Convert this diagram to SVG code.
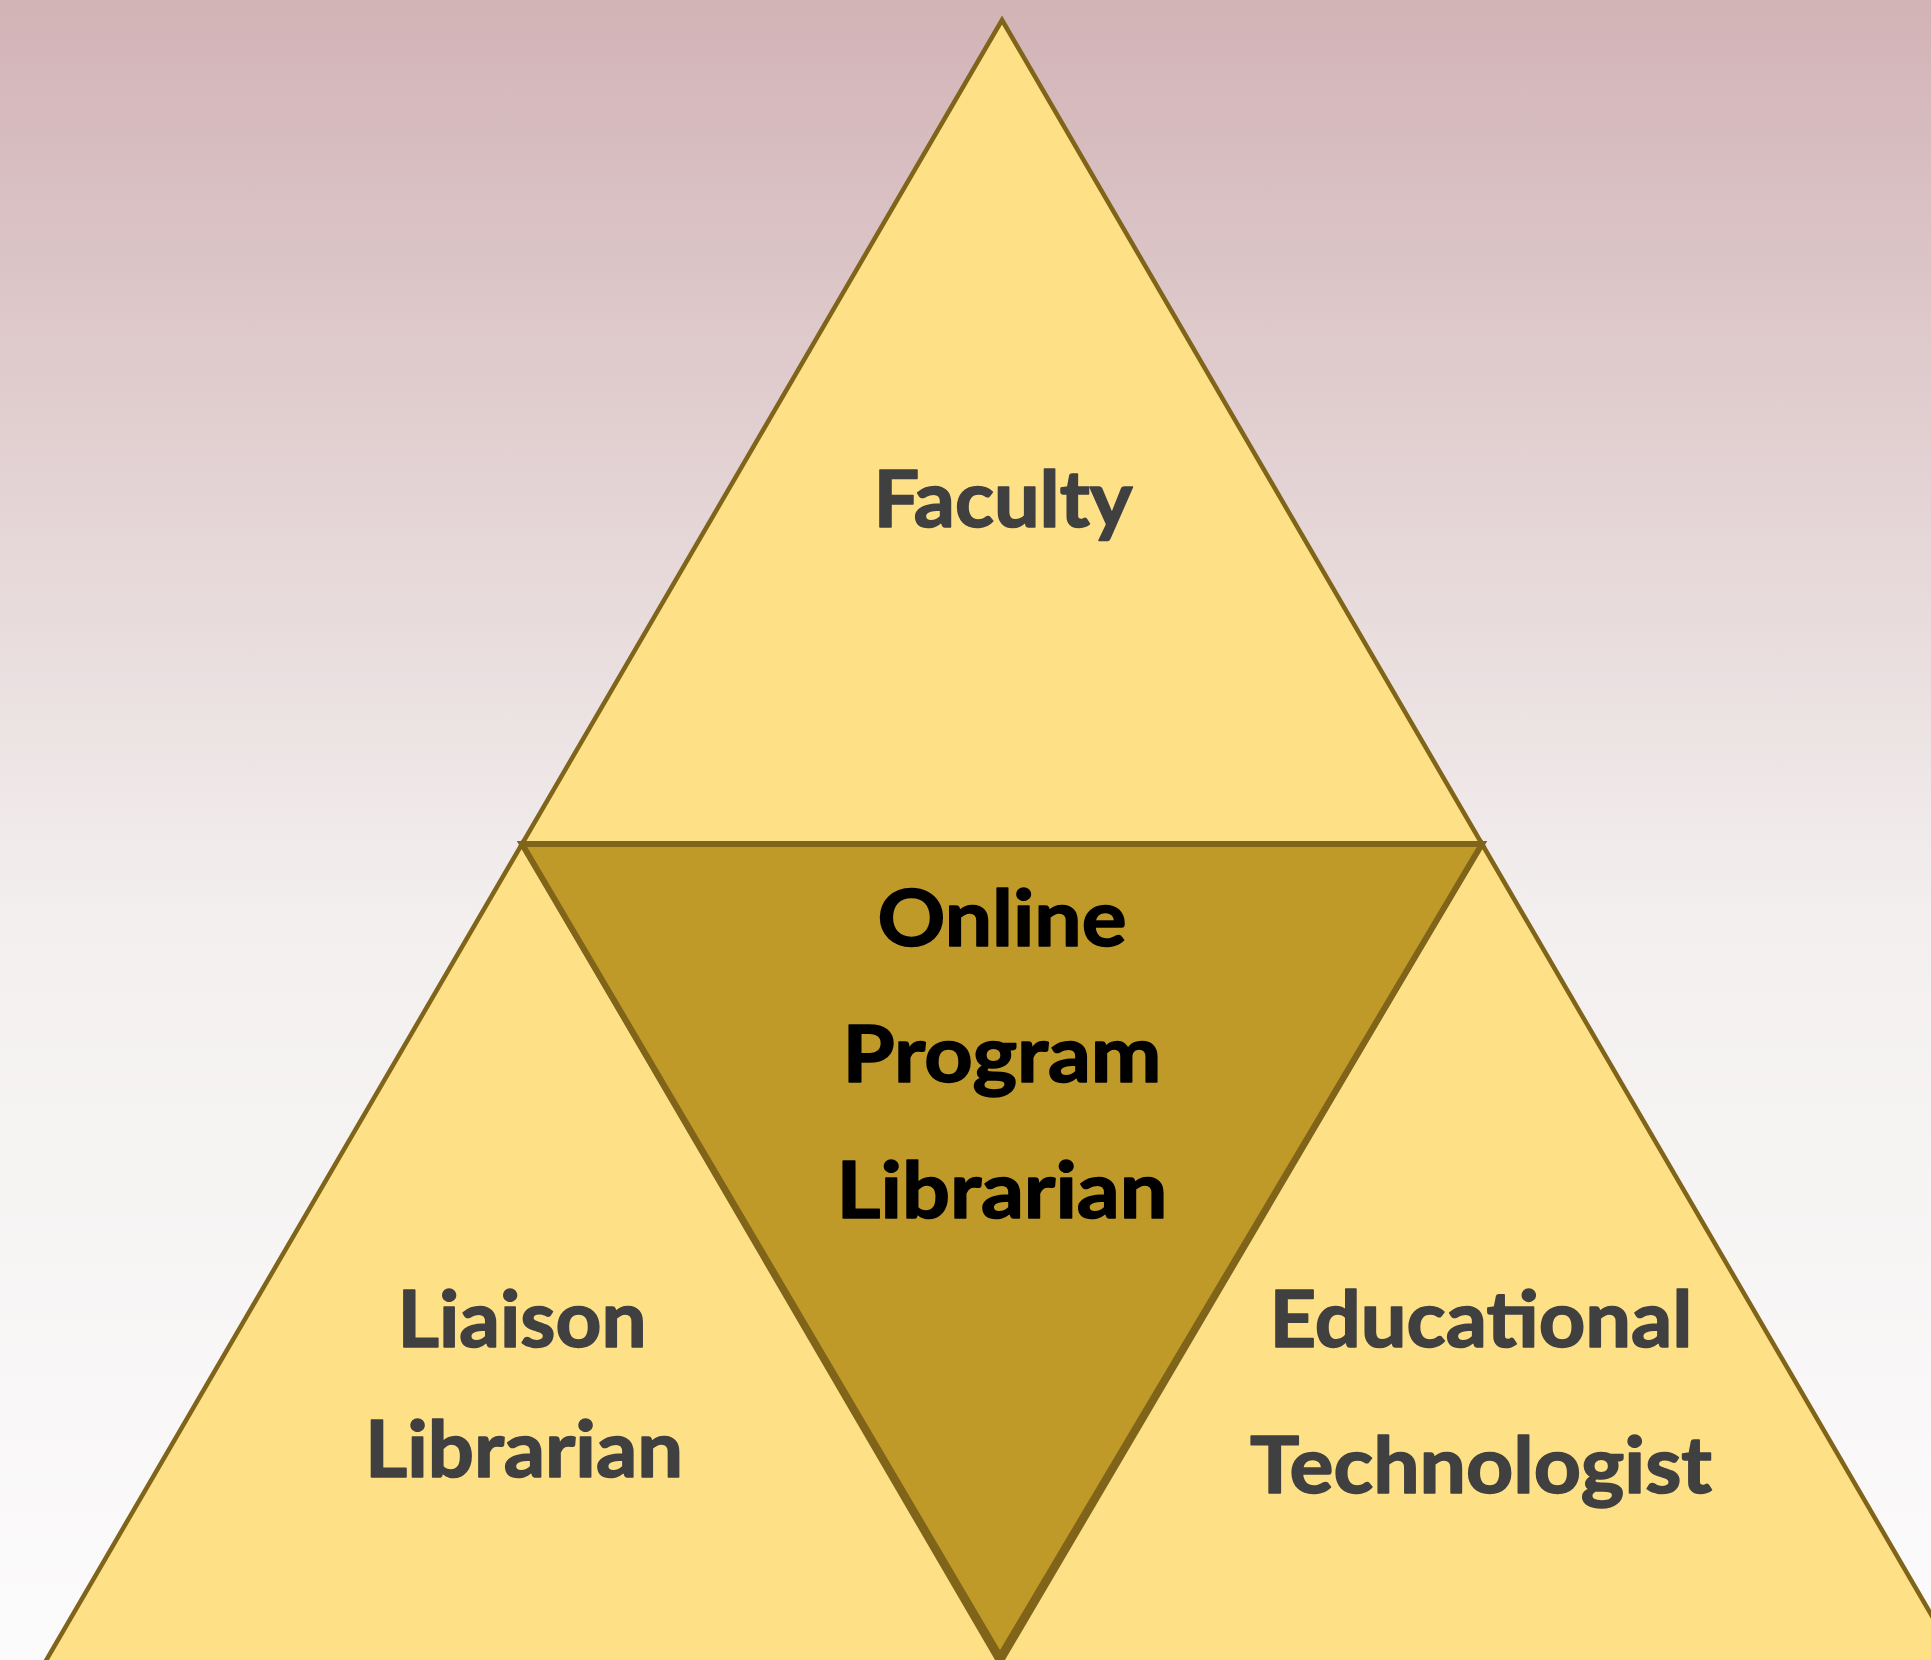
<svg xmlns="http://www.w3.org/2000/svg" width="1931" height="1660" viewBox="0 0 1931 1660">
  <defs>
    <linearGradient id="bg" x1="0" y1="0" x2="0" y2="1">
      <stop offset="0" stop-color="#D2B3B6"/>
      <stop offset="0.55" stop-color="#F3EFEF"/>
      <stop offset="1" stop-color="#FCFBFB"/>
    </linearGradient>
  </defs>
  <style>
    .light { fill: #FEE087; stroke: #7F6419; stroke-width: 4.5; stroke-linejoin: miter; }
    .dark { fill: #BF9A28; stroke: #7F6419; stroke-width: 6; stroke-linejoin: miter; }
    .lbl { font-family: Lato, "Open Sans", "Liberation Sans", sans-serif; font-weight: bold; font-size: 78px; text-anchor: middle; fill: #404040; stroke: #404040; stroke-width: 1.6; stroke-linejoin: round; }
    .center { fill: #000000; stroke: #000000; }
  </style>
  <rect x="0" y="0" width="1931" height="1660" fill="url(#bg)"/>
  <g id="nodes">
    <g id="faculty">
      <polygon class="light" points="1002,20 1482,844 522,844"/>
      <text class="lbl" x="1003" y="527" textLength="259" lengthAdjust="spacingAndGlyphs">Faculty</text>
    </g>
    <g id="liaison-librarian">
      <polygon class="light" points="522,844 1000,1664 44,1664"/>
      <text class="lbl" x="522" y="1347" textLength="249" lengthAdjust="spacingAndGlyphs">Liaison</text>
      <text class="lbl" x="524" y="1477" textLength="318" lengthAdjust="spacingAndGlyphs">Librarian</text>
    </g>
    <g id="educational-technologist">
      <polygon class="light" points="1482,844 1960,1664 1000,1664"/>
      <text class="lbl" x="1481" y="1347" textLength="423" lengthAdjust="spacingAndGlyphs">Educational</text>
      <text class="lbl" x="1481" y="1493" textLength="462" lengthAdjust="spacingAndGlyphs">Technologist</text>
    </g>
    <g id="online-program-librarian">
      <polygon class="dark" points="522,844 1482,844 1000,1656"/>
      <text class="lbl center" x="1002" y="946" textLength="249" lengthAdjust="spacingAndGlyphs">Online</text>
      <text class="lbl center" x="1002" y="1082" textLength="319" lengthAdjust="spacingAndGlyphs">Program</text>
      <text class="lbl center" x="1002" y="1218" textLength="331" lengthAdjust="spacingAndGlyphs">Librarian</text>
    </g>
  </g>
  <g id="connectors"></g>
</svg>
